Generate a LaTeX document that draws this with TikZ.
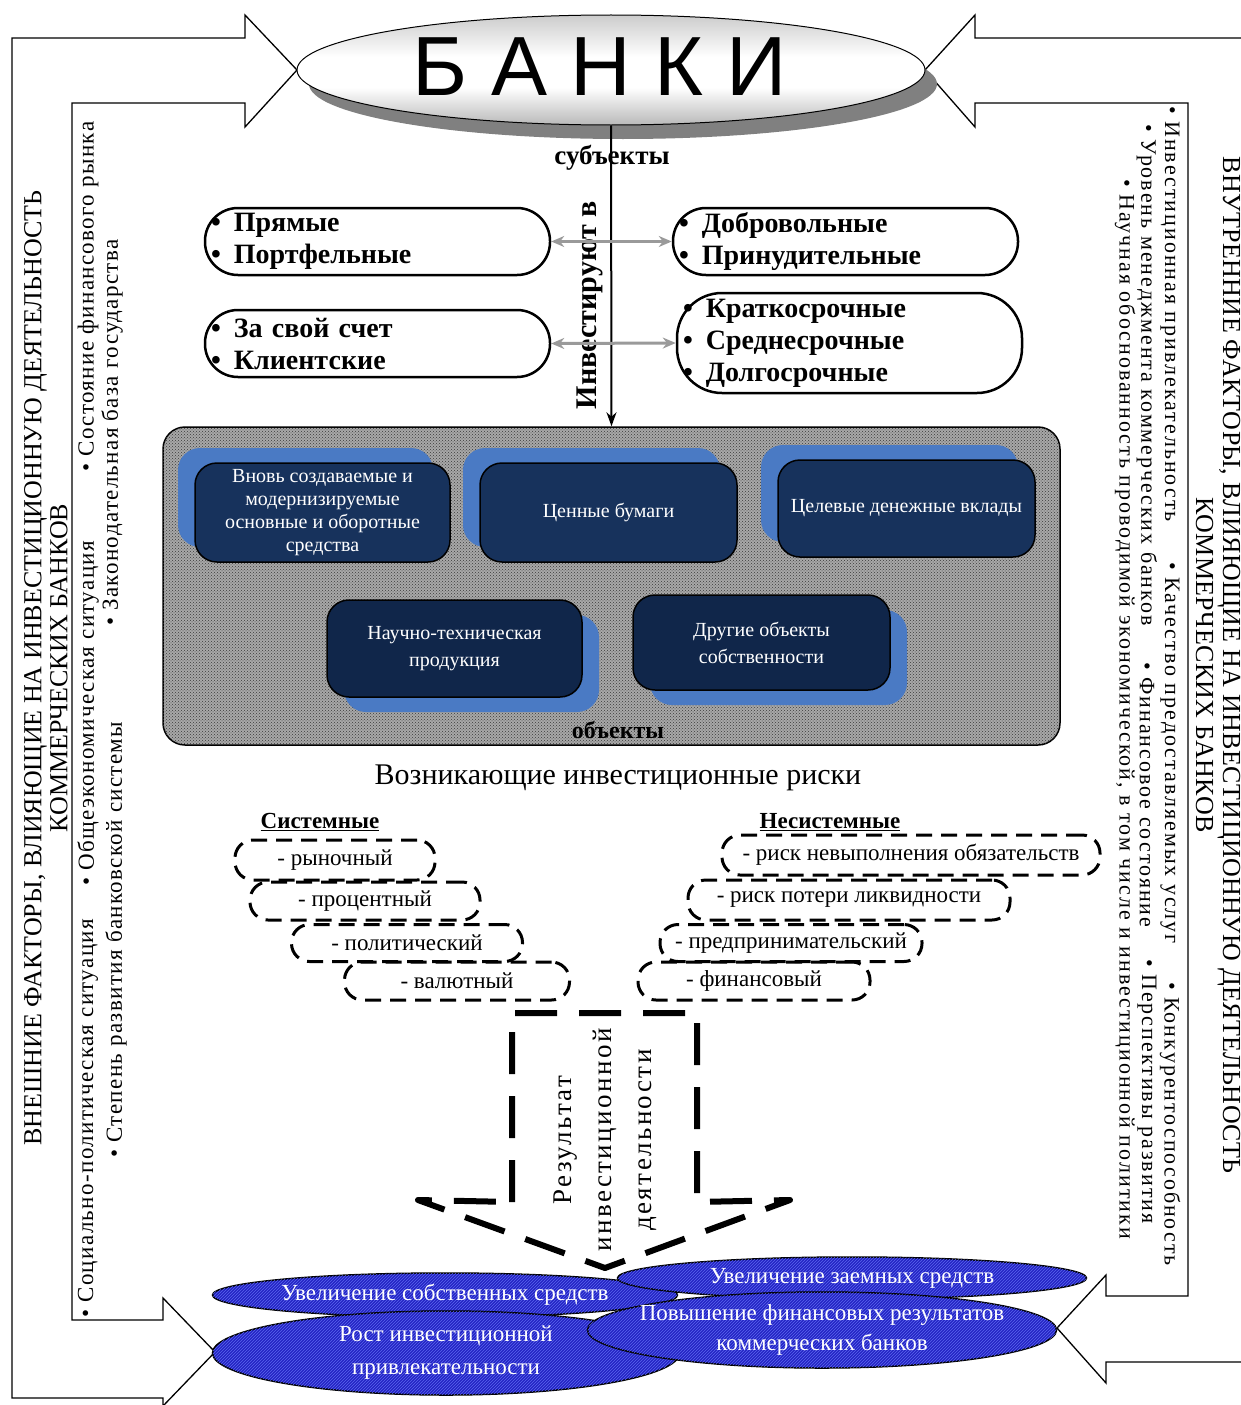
\documentclass[tikz,border=0pt]{standalone}
\usepackage{fontspec}
\setmainfont{Liberation Serif}
\newfontfamily\sansf{Liberation Sans}
\usetikzlibrary{shapes.geometric,arrows.meta,patterns,shadows,calc}
\definecolor{navyA}{HTML}{17325C}
\definecolor{navyB}{HTML}{10264A}
\definecolor{shblue}{HTML}{4A7AC4}
\definecolor{objgray}{HTML}{A8A8A8}
\definecolor{ellblue}{HTML}{2424C4}
\definecolor{ellline}{HTML}{5A66EE}
\definecolor{arrgray}{HTML}{9A9A9A}
\pgfdeclareverticalshading{bankshade}{100bp}{color(0bp)=(gray!55); color(25bp)=(gray!55);
  color(42bp)=(white); color(56bp)=(white); color(75bp)=(gray!40); color(100bp)=(gray!40)}
\newcommand\fsz[2]{\fontsize{#1}{#2}\selectfont}
\newcommand\bul{\textbullet\hspace{13pt}}
\begin{document}
\begin{tikzpicture}[x=1pt,y=-1pt,
  band/.style={draw=black,line width=1.3pt,line join=miter},
  capsule/.style={draw=black,line width=2.5pt,rounded corners=33pt,inner xsep=6pt,inner ysep=0pt,
     align=left,font=\bfseries\fsz{28}{32},minimum height=67pt},
  objbox/.style={draw=black,line width=1.5pt,rounded corners=22pt,text=white,align=center,
     font=\fsz{20}{23},inner sep=2pt},
  shadowTL/.style={general shadow={fill=shblue,draw=none,shadow xshift=-17pt,shadow yshift=15pt}},
  shadowBR/.style={general shadow={fill=shblue,draw=none,shadow xshift=17pt,shadow yshift=-15pt}},
  riskbox/.style={draw=black,line width=3pt,dash pattern=on 16pt off 9pt,rounded corners=18pt,
     font=\fsz{23}{23},inner sep=0pt},
  resell/.style={ellipse,draw=black,line width=1.5pt,fill=ellblue,
     postaction={pattern=north east lines,pattern color=ellline},inner sep=0pt},
  restext/.style={text=white,align=center},
  lefttext/.style={font=\fsz{23}{23}\addfontfeature{LetterSpace=6},inner sep=0pt,rotate=90,anchor=west},
  righttext/.style={font=\fsz{22}{22}\addfontfeature{LetterSpace=9},inner sep=0pt,rotate=-90,anchor=west}
]
\clip (0,0) rectangle (1241,1405);
\useasboundingbox (0,0) rectangle (1241,1405);

% ---- left band (external factors)
\draw[band] (245,38) -- (245,15) -- (297,70) -- (245,127) -- (245,103) -- (72,103) -- (72,1320)
  -- (163,1320) -- (163,1298) -- (215,1352) -- (163,1406) -- (163,1398) -- (12,1398) -- (12,38) -- cycle;
% ---- right band (internal factors)
\draw[band] (975,38) -- (975,15) -- (925,70) -- (975,127) -- (975,103) -- (1188,103) -- (1188,1296)
  -- (1106,1296) -- (1106,1275) -- (1057,1328) -- (1106,1383) -- (1106,1362) -- (1260,1362) -- (1260,38) -- cycle;

% ---- BANKS
\fill[gray] (623,84) ellipse [x radius=314pt, y radius=55pt];
\node[ellipse,draw=black,line width=1pt,minimum width=628pt,minimum height=110pt,inner sep=0pt,
  shading=bankshade] (banki) at (611,70) {};
\node[font=\sansf\fsz{84}{84}] (bankit) at (600,67) {Б А Н К И};

% ---- objects container
\node[draw=black,line width=1.5pt,rounded corners=22pt,fill=objgray,minimum width=897pt,minimum height=318pt,
  postaction={pattern=crosshatch dots,pattern color=gray!45!black}] (objs) at (611.5,586) {};

\draw[line width=2pt,-{Stealth[length=14pt,width=10pt]}] (banki.south) -- (objs.north);
\node[font=\bfseries\fsz{27}{27}] (subj) at (612,158) {субъекты};
\node[rotate=90,font=\bfseries\fsz{30}{30}] (invest) at (590,305) {Инвестируют в};

% ---- capsules
\node[capsule,text width=333pt] (c1) at (377.5,241.5) {\bul Прямые\\\bul Портфельные};
\node[capsule,text width=333pt] (c2) at (845.5,241.5) {\bul Добровольные\\\bul Принудительные};
\node[capsule,text width=333pt] (c3) at (377.5,343.5) {\bul За свой счет\\\bul Клиентские};
\node[capsule,text width=333pt,rounded corners=45pt,minimum height=100pt] (c4) at (849.5,343)
  {\bul Краткосрочные\\\bul Среднесрочные\\\bul Долгосрочные};
\draw[arrgray,line width=3pt,{Stealth[length=13pt,width=11pt]}-{Stealth[length=13pt,width=11pt]}] (c1.east) -- (c2.west);
\draw[arrgray,line width=3pt,{Stealth[length=13pt,width=11pt]}-{Stealth[length=13pt,width=11pt]}] (c3.east) -- (c4.west);

% ---- objects
\node[objbox,shadowTL,fill=navyA,minimum width=255pt,minimum height=99pt] (o1) at (322.5,512.5)
  {Вновь создаваемые и\\модернизируемые\\основные и оборотные\\средства};
\node[objbox,shadowTL,fill=navyA,minimum width=257pt,minimum height=99pt] (o2) at (608.5,512.5) {Ценные бумаги};
\node[objbox,shadowTL,fill=navyA,minimum width=257pt,minimum height=97pt] (o3) at (906.5,508.5) {Целевые денежные вклады};
\node[objbox,shadowBR,fill=navyB,minimum width=255pt,minimum height=97pt,font=\fsz{20}{27}] (o4) at (454.5,648.5)
  {Научно-техническая\\продукция};
\node[objbox,shadowBR,fill=navyB,minimum width=257pt,minimum height=95pt,font=\fsz{20}{27}] (o5) at (761.5,642.5)
  {Другие объекты\\собственности};
\node[font=\bfseries\fsz{24}{24}] (objlbl) at (618,730) {объекты};

% ---- risks
\node[font=\fsz{30}{30}] (risks) at (618,778) {Возникающие инвестиционные риски};
\node[font=\bfseries\fsz{23}{23}] (sys) at (320,822) {\underline{Системные}};
\node[font=\bfseries\fsz{23}{23}] (nsys) at (830,822) {\underline{Несистемные}};

\node[riskbox,minimum width=200pt,minimum height=40pt] (r1) at (335,860) {- рыночный};
\node[riskbox,minimum width=230pt,minimum height=38pt] (r2) at (365,901) {- процентный};
\node[riskbox,minimum width=231pt,minimum height=37pt] (r3) at (407,943) {- политический};
\node[riskbox,minimum width=225pt,minimum height=38pt] (r4) at (457,981) {- валютный};
\node[riskbox,minimum width=378pt,minimum height=40pt] (n1) at (911,855) {- риск невыполнения обязательств};
\node[riskbox,minimum width=322pt,minimum height=40pt] (n2) at (849,900) {- риск потери ликвидности};
\node[riskbox,minimum width=262pt,minimum height=37pt] (n3) at (791,943) {- предпринимательский};
\node[riskbox,minimum width=232pt,minimum height=38pt] (n4) at (754,981) {- финансовый};

% ---- result arrow
\draw[line width=6pt,dash pattern=on 42pt off 22pt,line join=round]
  (512,1202) -- (512,1013) -- (697,1013) -- (697,1202) -- (790,1200) -- (605,1268) -- (418,1200) -- cycle;
\node[rotate=90,align=center,font=\fsz{27}{40}\addfontfeature{LetterSpace=9}] (result) at (605,1140)
  {Результат\\инвестиционной\\деятельности};

% ---- results
\node[resell,minimum width=465pt,minimum height=44pt] (e1) at (445,1295) {};
\node[resell,minimum width=467pt,minimum height=84pt] (e3) at (446,1353) {};
\node[resell,minimum width=469pt,minimum height=42pt] (e2) at (852,1278) {};
\node[resell,minimum width=469pt,minimum height=76pt] (e4) at (822,1330) {};
\node[restext,font=\fsz{23}{23}] (e1t) at (e1) {Увеличение собственных средств};
\node[restext,font=\fsz{23}{23}] (e2t) at (e2) {Увеличение заемных средств};
\node[restext,font=\fsz{23}{33}] (e3t) at (e3) {Рост инвестиционной\\привлекательности};
\node[restext,font=\fsz{23}{30}] (e4t) at (e4) {Повышение финансовых результатов\\коммерческих банков};

% ---- external factors (left)
\node[rotate=90,align=center,font=\fsz{26}{26}] (extT) at (46,668)
  {ВНЕШНИЕ ФАКТОРЫ, ВЛИЯЮЩИЕ НА ИНВЕСТИЦИОННУЮ ДЕЯТЕЛЬНОСТЬ\\КОММЕРЧЕСКИХ БАНКОВ};
\node[lefttext] (ex1) at (88,1318) {\textbullet\ Социально-политическая ситуация};
\node[lefttext] (ex2) at (88,886) {\textbullet\ Общеэкономическая ситуация};
\node[lefttext] (ex3) at (88,472) {\textbullet\ Состояние финансового рынка};
\node[lefttext] (ex4) at (116,1158) {\textbullet\ Степень развития банковской системы};
\node[lefttext] (ex5) at (112,626) {\textbullet\ Законодательная база государства};

% ---- internal factors (right)
\node[rotate=-90,align=center,font=\fsz{26}{27}\addfontfeature{LetterSpace=1.5}] (intT) at (1218,665)
  {ВНУТРЕННИЕ ФАКТОРЫ, ВЛИЯЮЩИЕ НА ИНВЕСТИЦИОННУЮ ДЕЯТЕЛЬНОСТЬ\\КОММЕРЧЕСКИХ БАНКОВ};
\node[righttext] (in1) at (1170,106) {\textbullet\ Инвестиционная привлекательность};
\node[righttext] (in2) at (1170,562) {\textbullet\ Качество предоставляемых услуг};
\node[righttext] (in3) at (1170,982) {\textbullet\ Конкурентоспособность};
\node[righttext] (in4) at (1147,124) {\textbullet\ Уровень менеджмента коммерческих банков};
\node[righttext] (in5) at (1147,662) {\textbullet\ Финансовое состояние};
\node[righttext] (in6) at (1147,959) {\textbullet\ Перспективы развития};
\node[righttext] (in7) at (1125,179) {\textbullet\ Научная обоснованность проводимой экономической, в том числе и инвестиционной политики};
\end{tikzpicture}
\end{document}
